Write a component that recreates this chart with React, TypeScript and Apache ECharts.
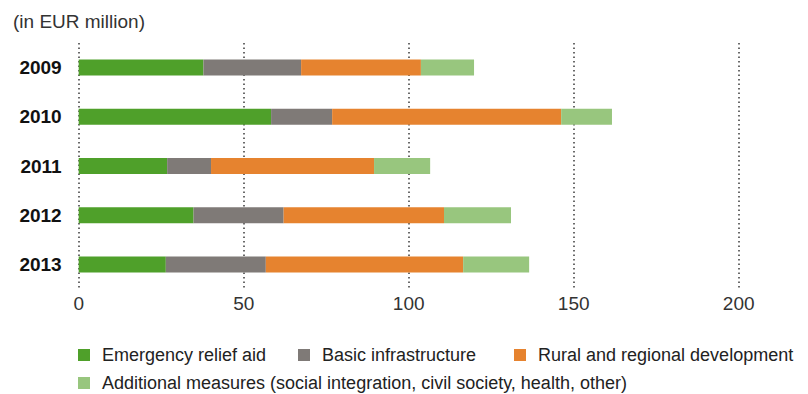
import React, { useEffect, useRef } from "react";
import * as echarts from "echarts";

// Funding by year, in EUR million
const years = ["2009", "2010", "2011", "2012", "2013"];
const emergencyRelief = [37.8, 58.3, 26.8, 34.8, 26.4];
const basicInfrastructure = [29.6, 18.5, 13.3, 27.3, 30.3];
const ruralDevelopment = [36.3, 69.4, 49.4, 48.6, 59.8];
const additionalMeasures = [16.1, 15.4, 17.0, 20.3, 20.0];

const seriesNames = [
  "Emergency relief aid",
  "Basic infrastructure",
  "Rural and regional development",
  "Additional measures (social integration, civil society, health, other)",
];
const seriesColors = ["#4fa02a", "#7f7a77", "#e6832f", "#98c67e"];
const seriesData = [emergencyRelief, basicInfrastructure, ruralDevelopment, additionalMeasures];

const FONT = "'Liberation Sans', Arial, sans-serif";

export default function App() {
  const ref = useRef<HTMLDivElement>(null);

  useEffect(() => {
    if (!ref.current) return;
    const chart = echarts.init(ref.current, undefined, { renderer: "svg" });

    // one legend block per entry: three on the first row, one on the second
    const legendPos = [
      { left: 78, top: 346 },
      { left: 298, top: 346 },
      { left: 514, top: 346 },
      { left: 78, top: 374 },
    ];

    chart.setOption({
      animation: false,
      backgroundColor: "#ffffff",
      textStyle: { fontFamily: FONT },
      title: {
        text: "(in EUR million)",
        left: 13,
        top: 11,
        padding: 0,
        textStyle: { fontFamily: FONT, fontSize: 19, fontWeight: "normal", color: "#333333", lineHeight: 21 },
      },
      legend: seriesNames.map((name, i) => ({
        data: [name],
        left: legendPos[i].left,
        top: legendPos[i].top,
        padding: 0,
        icon: "rect",
        itemWidth: 12,
        itemHeight: 12,
        selectedMode: false,
        textStyle: {
          fontFamily: FONT,
          fontSize: 18,
          color: "#222222",
          lineHeight: 18,
          padding: [0, 0, 0, 7],
        },
      })),
      grid: { left: 78.7, right: 69.3, top: 43, height: 246, containLabel: false },
      xAxis: {
        type: "value",
        min: 0,
        max: 200,
        interval: 50,
        axisLine: { show: false },
        axisTick: { show: false },
        axisLabel: { fontFamily: FONT, fontSize: 19, color: "#333333", margin: 5 },
        splitLine: {
          show: true,
          lineStyle: { color: "#3a3a3a", width: 1.5, type: [1.5, 3] },
        },
      },
      yAxis: {
        type: "category",
        inverse: true,
        data: years,
        axisLine: { show: false },
        axisTick: { show: false },
        axisLabel: {
          fontFamily: FONT,
          fontSize: 19,
          fontWeight: "bold",
          color: "#111111",
          margin: 17,
        },
      },
      series: seriesNames.map((name, i) => ({
        name,
        type: "bar",
        stack: "total",
        barWidth: 16,
        itemStyle: { color: seriesColors[i] },
        data: seriesData[i],
      })),
    });

    return () => chart.dispose();
  }, []);

  return (
    <div
      ref={ref}
      style={{ position: "fixed", left: 0, top: 0, width: 808, height: 394 }}
    />
  );
}
